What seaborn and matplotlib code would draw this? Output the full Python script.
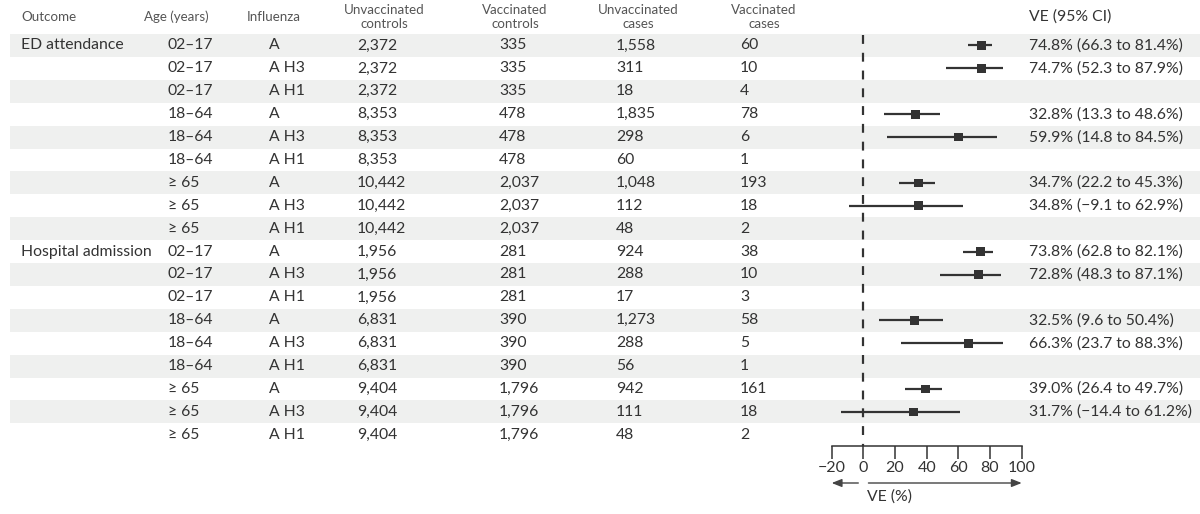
import numpy as np
import pandas as pd
import matplotlib
matplotlib.use("Agg")
import matplotlib.pyplot as plt
import matplotlib.transforms as mtransforms
import seaborn as sns

# ---- data ----
outcome = ["ED attendance"] + [""] * 8 + ["Hospital admission"] + [""] * 8
age = ["02–17"] * 3 + ["18–64"] * 3 + ["≥ 65"] * 3
age = age + age
influenza = ["A", "A H3", "A H1"] * 6
unvacc_controls = [2372, 2372, 2372, 8353, 8353, 8353, 10442, 10442, 10442,
                   1956, 1956, 1956, 6831, 6831, 6831, 9404, 9404, 9404]
vacc_controls = [335, 335, 335, 478, 478, 478, 2037, 2037, 2037,
                 281, 281, 281, 390, 390, 390, 1796, 1796, 1796]
unvacc_cases = [1558, 311, 18, 1835, 298, 60, 1048, 112, 48,
                924, 288, 17, 1273, 288, 56, 942, 111, 48]
vacc_cases = [60, 10, 4, 78, 6, 1, 193, 18, 2,
              38, 10, 3, 58, 5, 1, 161, 18, 2]
ve = [74.8, 74.7, np.nan, 32.8, 59.9, np.nan, 34.7, 34.8, np.nan,
      73.8, 72.8, np.nan, 32.5, 66.3, np.nan, 39.0, 31.7, np.nan]
ve_lo = [66.3, 52.3, np.nan, 13.3, 14.8, np.nan, 22.2, -9.1, np.nan,
         62.8, 48.3, np.nan, 9.6, 23.7, np.nan, 26.4, -14.4, np.nan]
ve_hi = [81.4, 87.9, np.nan, 48.6, 84.5, np.nan, 45.3, 62.9, np.nan,
         82.1, 87.1, np.nan, 50.4, 88.3, np.nan, 49.7, 61.2, np.nan]
xticks = [-20, 0, 20, 40, 60, 80, 100]

df = pd.DataFrame({
    "outcome": outcome, "age": age, "influenza": influenza,
    "unvacc_controls": unvacc_controls, "vacc_controls": vacc_controls,
    "unvacc_cases": unvacc_cases, "vacc_cases": vacc_cases,
    "ve": ve, "lo": ve_lo, "hi": ve_hi,
})
df["row"] = np.arange(len(df))

sns.set_theme(style="white")
plt.rcParams["font.family"] = ["Lato", "DejaVu Sans"]

TXT = "#333333"
HDR = "#555555"
STRIPE = "#eff0ef"
W, H = 1200, 514
y0, step = 45.5, 22.9          # pixel centre of first row, row pitch


def row_at(px):
    return (px - y0) / step


fig = plt.figure(figsize=(W / 100, H / 100), dpi=100)
fig.patch.set_facecolor("white")

# table layer, x in pixels, y in rows
ax = fig.add_axes([0, 0, 1, 1])
ax.set_xlim(0, W)
ax.set_ylim(row_at(H), row_at(0))
ax.axis("off")

for r in df["row"]:
    if r % 2 == 0:
        ax.axhspan(r - 0.5, r + 0.5, xmin=10 / W, xmax=1, color=STRIPE, lw=0, zorder=0)

hdr_y = row_at(17)
hdr_kw = dict(fontsize=9.6, color=HDR, va="center", linespacing=1.15)
ax.text(21, hdr_y, "Outcome", ha="left", **hdr_kw)
ax.text(144, hdr_y, "Age (years)", ha="left", **hdr_kw)
ax.text(247, hdr_y, "Influenza", ha="left", **hdr_kw)
ax.text(384, hdr_y, "Unvaccinated\ncontrols", ha="center", **hdr_kw)
ax.text(515, hdr_y, "Vaccinated\ncontrols", ha="center", **hdr_kw)
ax.text(638, hdr_y, "Unvaccinated\ncases", ha="center", **hdr_kw)
ax.text(764, hdr_y, "Vaccinated\ncases", ha="center", **hdr_kw)
ax.text(1029, hdr_y, "VE (95% CI)", ha="left", fontsize=11.3, color=TXT, va="center")


def fmt(v):
    return f"{v:.1f}".replace("-", "−")


body = dict(fontsize=11.3, color=TXT, va="center", ha="left")
for _, d in df.iterrows():
    r = d["row"]
    ax.text(21, r, d["outcome"], **body)
    ax.text(168, r, d["age"], **body)
    ax.text(269, r, d["influenza"], **body)
    ax.text(357, r, f"{d['unvacc_controls']:,}", **body)
    ax.text(499, r, f"{d['vacc_controls']:,}", **body)
    ax.text(616, r, f"{d['unvacc_cases']:,}", **body)
    ax.text(740, r, f"{d['vacc_cases']:,}", **body)
    if not np.isnan(d["ve"]):
        ax.text(1029, r, f"{fmt(d['ve'])}% ({fmt(d['lo'])} to {fmt(d['hi'])}%)", **body)

# forest layer
x_left, x_right, axis_px = 831.7, 1021.7, 446
axf = fig.add_axes([x_left / W, (H - axis_px) / H, (x_right - x_left) / W, axis_px / H])
axf.patch.set_alpha(0)
axf.set_xlim(xticks[0], xticks[-1])
axf.set_ylim(row_at(axis_px), row_at(0))
for s in ["top", "left", "right"]:
    axf.spines[s].set_visible(False)
axf.spines["bottom"].set_color(TXT)
axf.spines["bottom"].set_linewidth(1.1)
axf.set_yticks([])
axf.set_xticks(xticks)
axf.tick_params(axis="x", direction="out", length=9, width=1.1, color=TXT,
                labelsize=11.5, labelcolor=TXT, pad=2, bottom=True)

axf.vlines(0, row_at(35), row_at(axis_px), colors=TXT, linestyles=(0, (4, 4)), lw=1.6, zorder=2)
ci = df.dropna(subset=["ve"])
axf.hlines(ci["row"], ci["lo"], ci["hi"], colors=TXT, lw=1.6, zorder=3, clip_on=False)
sns.scatterplot(data=ci, x="ve", y="row", marker="s", s=40, color=TXT,
                edgecolor="none", legend=False, ax=axf, zorder=4, clip_on=False)
axf.set_xlabel("")
axf.set_ylabel("")

tr = mtransforms.blended_transform_factory(axf.transData, fig.transFigure)
ya = 1 - 483 / H
arrow = dict(arrowstyle="-|>,head_length=0.5,head_width=0.2", lw=1, color="#444444",
             shrinkA=0, shrinkB=0)
axf.annotate("", xy=(xticks[0], ya), xytext=(-3.2, ya), xycoords=tr, textcoords=tr,
             arrowprops=arrow, annotation_clip=False)
axf.annotate("", xy=(xticks[-1], ya), xytext=(3.2, ya), xycoords=tr, textcoords=tr,
             arrowprops=arrow, annotation_clip=False)
axf.text(2.5, 1 - 497 / H, "VE (%)", transform=tr, ha="left", va="center",
         fontsize=11.3, color=TXT)

fig.savefig("out.png", dpi=100, facecolor="white")
